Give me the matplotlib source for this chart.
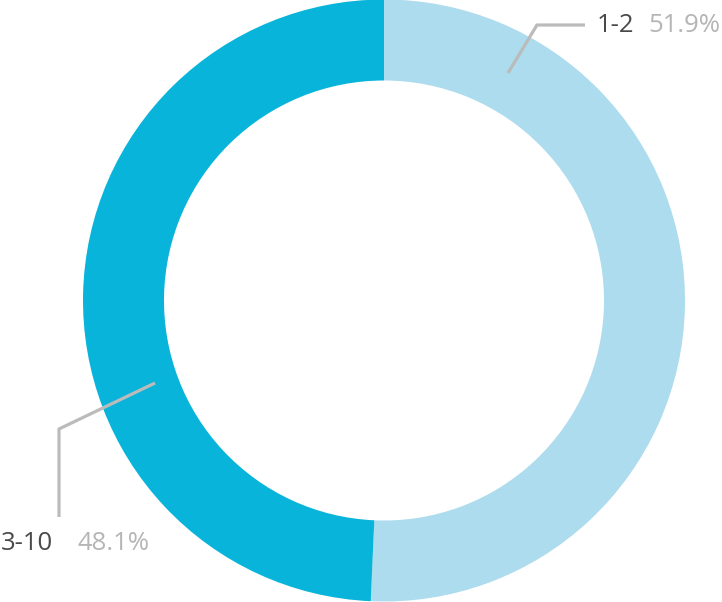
import matplotlib.pyplot as plt

labels = ["1-2", "3-10"]
# ring split as drawn in the picture; labels carry the printed percentages
shares = [50.7, 49.3]
pct_labels = ["51.9%", "48.1%"]
colors = ["#acdcee", "#09b4da"]

W, H = 722, 602
fig = plt.figure(figsize=(W / 100, H / 100), dpi=100)
ax = fig.add_axes([0, 0, 1, 1])

cx, cy, r = 384, H - 300.5, 301
ax.pie(shares, colors=colors, startangle=90, counterclock=False,
       center=(cx, cy), radius=r, frame=True,
       wedgeprops=dict(width=81, linewidth=0))
ax.set_xlim(0, W)
ax.set_ylim(0, H)
ax.set_aspect("equal")
ax.axis("off")

line_kw = dict(color="#bbbbbb", lw=2.3, solid_capstyle="butt")
font = "Open Sans"
fs = 18.5

# 1-2 leader
ax.plot([508, 537, 585], [H - 73, H - 25, H - 25], **line_kw)
ax.text(597, H - 25, labels[0], fontsize=fs, color="#4a4a4a", family=font,
        va="center", ha="left")
ax.text(720, H - 25, pct_labels[0], fontsize=fs, color="#b5b5b5", family=font,
        va="center", ha="right")

# 3-10 leader
ax.plot([155, 59, 59], [H - 383, H - 429, H - 517], **line_kw)
ax.text(1, H - 543, labels[1], fontsize=fs, color="#4a4a4a", family=font,
        va="center", ha="left")
ax.text(149, H - 543, pct_labels[1], fontsize=fs, color="#b5b5b5", family=font,
        va="center", ha="right")

fig.savefig("out.png", dpi=100)
